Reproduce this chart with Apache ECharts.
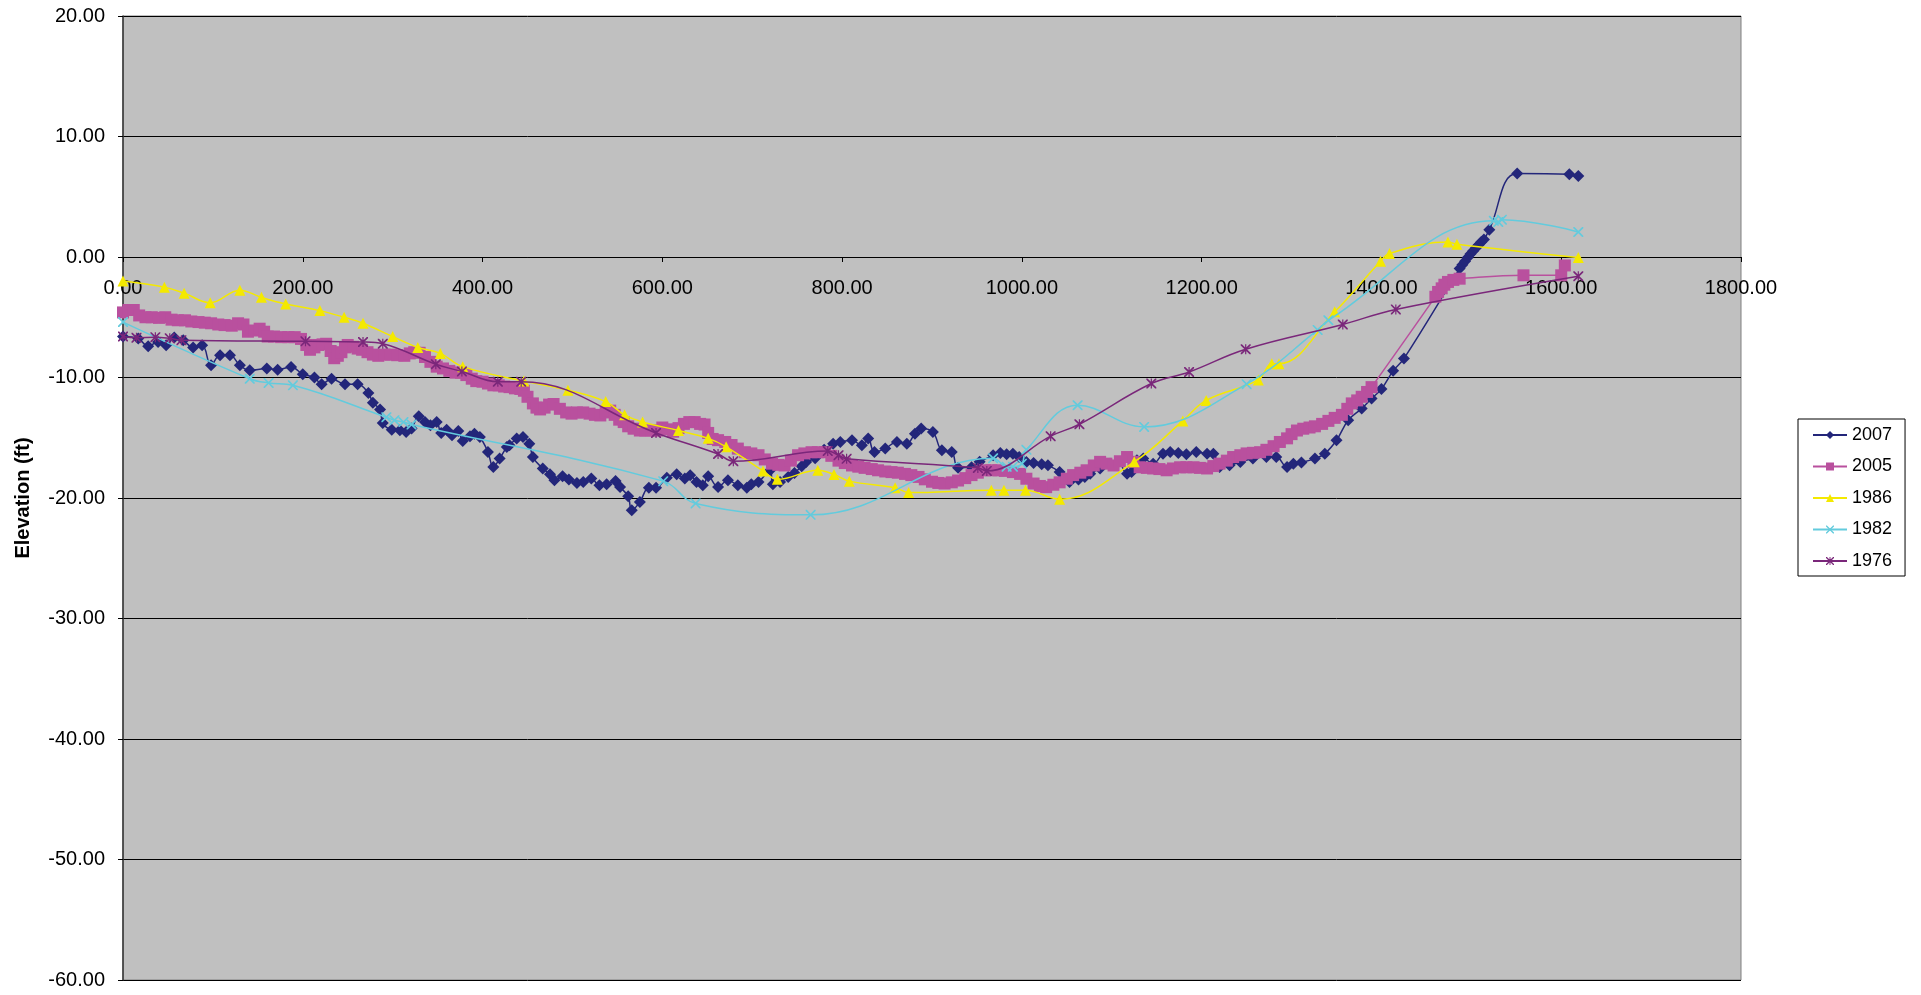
<!DOCTYPE html>
<html><head><meta charset="utf-8">
<script src="https://cdn.jsdelivr.net/npm/echarts@6.0.0/dist/echarts.min.js"></script>
<style>html,body{margin:0;padding:0;background:#fff;}#c{width:1921px;height:995px;}</style>
</head><body><div id="c"></div>
<script>
// ---- data (distance ft, elevation ft) ----
const x2007 = [0,17,28,39,48,57,67,78,88,98,108,119,130,141,160,172,187,200,213,221,232,247,261,273,278,286,289,299,308,315,321,329,336,342,349,354,360,366,373,378,386,391,397,406,412,419,427,430,438,445,452,456,467,475,480,489,496,505,512,521,530,538,548,553,562,566,575,585,593,605,616,625,631,638,645,651,662,673,684,694,699,707,720,723,731,740,747,755,760,770,780,790,798,811,822,829,836,848,861,872,881,888,901,911,922,929,944,953,968,976,983,990,997,1005,1013,1022,1029,1042,1053,1063,1070,1076,1087,1098,1107,1117,1122,1128,1135,1146,1157,1165,1174,1183,1194,1206,1213,1220,1231,1243,1257,1272,1283,1295,1302,1311,1326,1337,1350,1363,1378,1389,1400,1413,1425,1487,1490,1493,1496,1499,1502,1505,1508,1511,1514,1520,1551,1609,1619];
const y2007 = [-6.6,-6.77,-7.41,-7.05,-7.33,-6.69,-6.91,-7.52,-7.33,-8.99,-8.16,-8.16,-8.99,-9.4,-9.26,-9.35,-9.13,-9.73,-10.0,-10.56,-10.1,-10.56,-10.56,-11.29,-12.1,-12.66,-13.78,-14.33,-14.38,-14.52,-14.24,-13.22,-13.69,-13.97,-13.69,-14.6,-14.33,-14.8,-14.44,-15.27,-14.88,-14.66,-14.94,-16.18,-17.43,-16.73,-15.77,-15.63,-15.07,-14.94,-15.49,-16.6,-17.56,-18.03,-18.53,-18.2,-18.47,-18.76,-18.67,-18.39,-18.95,-18.86,-18.59,-19.09,-19.86,-21.02,-20.33,-19.14,-19.14,-18.31,-18.03,-18.39,-18.12,-18.67,-18.95,-18.2,-19.09,-18.53,-18.95,-19.14,-18.86,-18.67,-17.7,-18.86,-18.67,-18.26,-17.92,-17.37,-17.01,-16.7,-16.0,-15.49,-15.35,-15.21,-15.63,-15.07,-16.18,-15.9,-15.35,-15.49,-14.66,-14.24,-14.52,-16.04,-16.18,-17.48,-17.45,-17.0,-16.46,-16.27,-16.37,-16.32,-16.6,-17.01,-17.1,-17.2,-17.29,-17.84,-18.67,-18.47,-18.26,-17.98,-17.56,-17.15,-17.01,-17.98,-17.84,-16.87,-16.73,-17.15,-16.32,-16.18,-16.27,-16.37,-16.18,-16.32,-16.32,-17.43,-17.29,-17.01,-16.73,-16.6,-16.6,-17.43,-17.15,-17.05,-16.73,-16.32,-15.21,-13.55,-12.58,-11.75,-10.95,-9.45,-8.43,-0.96,-0.65,-0.35,-0.05,0.25,0.5,0.75,1.0,1.25,1.45,2.27,6.92,6.86,6.72];

const x2005 = [0,6,12,18,25,32,40,47,54,61,69,76,84,91,98,106,113,121,128,134,139,146,152,157,161,168,176,184,191,198,204,208,213,217,222,226,231,235,239,243,247,250,256,261,266,272,278,284,291,298,305,313,319,324,330,336,342,349,356,363,370,376,382,388,393,400,406,412,418,424,430,436,442,446,450,456,460,464,469,474,479,486,493,499,505,512,519,525,531,537,542,547,552,557,562,568,575,581,588,594,600,606,612,618,624,630,636,642,647,651,656,662,670,677,684,692,699,707,714,722,729,736,743,751,758,766,773,781,788,796,803,811,818,825,833,840,848,855,862,870,877,885,892,900,907,914,922,929,937,944,951,959,966,974,981,990,998,1005,1013,1020,1027,1035,1042,1050,1057,1065,1072,1080,1087,1094,1102,1109,1117,1124,1131,1139,1146,1153,1161,1168,1176,1183,1191,1198,1206,1213,1220,1228,1235,1243,1250,1257,1265,1272,1280,1287,1295,1300,1306,1313,1320,1326,1334,1341,1348,1356,1362,1367,1373,1378,1384,1389,1460,1463,1467,1470,1474,1480,1487,1558,1600,1604];
const y2005 = [-4.6,-4.4,-4.4,-4.85,-5.0,-5.0,-5.05,-5.0,-5.2,-5.25,-5.25,-5.35,-5.4,-5.45,-5.5,-5.6,-5.65,-5.7,-5.5,-5.6,-6.2,-6.1,-5.95,-6.2,-6.6,-6.6,-6.65,-6.65,-6.65,-6.8,-7.3,-7.7,-7.5,-7.3,-7.25,-7.2,-7.8,-8.4,-8.2,-7.9,-7.5,-7.3,-7.45,-7.6,-7.7,-7.9,-8.1,-8.2,-8.1,-8.1,-8.15,-8.2,-8.0,-7.9,-7.95,-8.3,-8.7,-9.1,-9.25,-9.45,-9.6,-9.6,-9.8,-10.1,-10.3,-10.35,-10.5,-10.65,-10.65,-10.75,-10.8,-10.9,-10.95,-11.1,-11.6,-12.15,-12.5,-12.65,-12.5,-12.25,-12.2,-12.6,-12.9,-13.0,-12.9,-12.9,-13.0,-13.1,-13.15,-12.9,-12.75,-13.1,-13.5,-13.7,-14.05,-14.25,-14.4,-14.4,-14.4,-14.4,-14.15,-14.3,-14.5,-14.2,-13.85,-13.7,-13.7,-13.85,-13.9,-14.6,-15.1,-15.2,-15.35,-15.6,-15.9,-16.2,-16.3,-16.45,-16.8,-17.15,-17.25,-17.3,-16.9,-16.45,-16.3,-16.2,-16.2,-16.2,-16.5,-16.9,-17.1,-17.3,-17.4,-17.5,-17.6,-17.7,-17.8,-17.85,-17.9,-18.0,-18.1,-18.25,-18.45,-18.65,-18.75,-18.8,-18.7,-18.55,-18.35,-18.1,-17.9,-17.7,-17.7,-17.7,-17.75,-17.85,-18.0,-18.4,-18.8,-19.0,-19.1,-18.9,-18.7,-18.4,-18.1,-17.9,-17.7,-17.3,-17.0,-17.15,-17.3,-16.95,-16.6,-17.0,-17.45,-17.5,-17.55,-17.6,-17.7,-17.55,-17.45,-17.45,-17.45,-17.5,-17.55,-17.35,-17.15,-16.9,-16.6,-16.45,-16.3,-16.25,-16.2,-16.0,-15.7,-15.35,-15.05,-14.7,-14.4,-14.25,-14.15,-14.05,-13.85,-13.6,-13.35,-13.1,-12.6,-12.15,-11.9,-11.6,-11.2,-10.8,-3.3,-2.9,-2.6,-2.3,-2.07,-1.9,-1.8,-1.52,-1.52,-0.7];

const x1986 = [0,46,68,97,130,154,181,219,246,267,300,328,353,378,446,495,537,558,578,618,651,671,712,728,773,791,808,859,874,966,980,1004,1042,1125,1179,1205,1263,1278,1286,1348,1399,1409,1474,1484,1619];
const y1986 = [-2.0,-2.5,-3.0,-3.8,-2.75,-3.35,-3.9,-4.45,-5.0,-5.5,-6.6,-7.5,-8.0,-9.1,-10.3,-11.05,-12.0,-13.1,-13.7,-14.4,-15.05,-15.75,-17.75,-18.45,-17.7,-18.05,-18.6,-19.15,-19.55,-19.35,-19.35,-19.35,-20.1,-17.0,-13.6,-11.9,-10.2,-8.85,-8.85,-4.55,-0.35,0.3,1.25,1.05,-0.05];

const x1982 = [0,141,162,189,293,302,312,321,601,637,765,968,983,990,1000,1005,1062,1136,1250,1329,1341,1525,1530,1534,1619];
const y1982 = [-5.4,-10.1,-10.45,-10.65,-13.3,-13.55,-13.7,-13.9,-18.6,-20.45,-21.4,-16.7,-17.4,-17.4,-17.15,-16.0,-12.3,-14.1,-10.55,-6.05,-5.25,3.0,2.9,3.1,2.07];

const x1976 = [0,15,36,52,65,203,267,289,348,377,417,443,593,662,679,784,796,805,951,961,1032,1064,1144,1186,1249,1357,1416,1619];
const y1976 = [-6.6,-6.7,-6.65,-6.75,-6.9,-7.0,-7.05,-7.2,-8.9,-9.5,-10.35,-10.35,-14.6,-16.35,-16.95,-16.1,-16.45,-16.75,-17.5,-17.75,-14.87,-13.88,-10.5,-9.54,-7.65,-5.6,-4.35,-1.6];

const seriesNames = ['2007','2005','1986','1982','1976'];
const xTickMin = 0, xTickMax = 1800, xTickStep = 200;
const yTickMin = -60, yTickMax = 20, yTickStep = 10;

// ---- chart ----
const zip = (xs, ys) => xs.map((x, i) => [x, ys[i]]);
const FONT = '"Liberation Sans", Arial, sans-serif';
const X_PATH = 'path://M0,0L1.2,0L5,3.8L8.8,0L10,0L10,1.2L6.2,5L10,8.8L10,10L8.8,10L5,6.2L1.2,10L0,10L0,8.8L3.8,5L0,1.2Z';
const STAR_PATH = 'path://M0,0L1.2,0L5,3.8L8.8,0L10,0L10,1.2L6.2,5L10,8.8L10,10L8.8,10L5,6.2L1.2,10L0,10L0,8.8L3.8,5L0,1.2Z M4.4,0L5.6,0L5.6,10L4.4,10Z';

const styles = [
  {color:'#23267A', symbol:'diamond', size:12, x:x2007, y:y2007},
  {color:'#B9509E', symbol:'rect', size:12, x:x2005, y:y2005},
  {color:'#F4E900', symbol:'triangle', size:11, x:x1986, y:y1986},
  {color:'#63CBDD', symbol:X_PATH, size:10, x:x1982, y:y1982},
  {color:'#7A277A', symbol:STAR_PATH, size:10, x:x1976, y:y1976}
];

const GRID = {left: 123, right: 180, top: 16, bottom: 15};
const plotH = 995 - GRID.top - GRID.bottom;
const zeroFromBottom = plotH * (0 - yTickMin) / (yTickMax - yTickMin);

const chart = echarts.init(document.getElementById('c'), null, {renderer:'canvas'});
const labelAxisCommon = {
  type: 'value', min: xTickMin, max: xTickMax, interval: xTickStep
};
chart.setOption({
  animation: false,
  backgroundColor: '#ffffff',
  textStyle: {fontFamily: FONT},
  grid: Object.assign({containLabel: false, outerBoundsMode: 'none',
         show: true, backgroundColor: '#C0C0C0', borderColor: '#808080', borderWidth: 1}, GRID),
  legend: {
    data: seriesNames, orient: 'vertical', left: 1798, top: 419,
    backgroundColor: '#ffffff', borderColor: '#000', borderWidth: 1,
    padding: [7, 13, 6, 14], itemGap: 13.5, itemWidth: 34, itemHeight: 10,
    textStyle: {fontFamily: FONT, fontSize: 18, color: '#000', lineHeight: 18}
  },
  xAxis: [
    Object.assign({}, labelAxisCommon, {
      axisLine: {show: true, onZero: true, lineStyle: {color: '#000', width: 1}},
      axisTick: {show: true, length: 5, inside: false, lineStyle: {color: '#000'}},
      axisLabel: {show: false},
      splitLine: {show: false}
    }),
    Object.assign({}, labelAxisCommon, {
      position: 'bottom', offset: -zeroFromBottom,
      axisLine: {show: false, onZero: false},
      axisTick: {show: false},
      axisLabel: {show: true, fontFamily: FONT, fontSize: 20, color: '#000', margin: 21,
                  formatter: v => v.toFixed(2), showMinLabel: true, showMaxLabel: true},
      splitLine: {show: false}
    })
  ],
  yAxis: {
    type: 'value', min: yTickMin, max: yTickMax, interval: yTickStep,
    name: 'Elevation (ft)', nameLocation: 'middle', nameGap: 90,
    nameTextStyle: {fontFamily: FONT, fontSize: 20, fontWeight: 'bold', color: '#000'},
    axisLine: {show: true, onZero: false, lineStyle: {color: '#333', width: 1.5}},
    axisTick: {show: true, length: 5, inside: false, lineStyle: {color: '#000'}},
    axisLabel: {fontFamily: FONT, fontSize: 20, color: '#000', margin: 18,
                formatter: v => v.toFixed(2)},
    splitLine: {show: true, lineStyle: {color: '#000', width: 1}}
  },
  series: styles.map((s, i) => ({
    name: seriesNames[i], type: 'line', z: 2 + i, xAxisIndex: 0,
    data: zip(s.x, s.y), smooth: 0.4,
    symbol: s.symbol, symbolSize: s.size, showSymbol: true,
    lineStyle: {color: s.color, width: 1.5},
    itemStyle: {color: s.color},
    emphasis: {disabled: true}
  }))
});
</script></body></html>
